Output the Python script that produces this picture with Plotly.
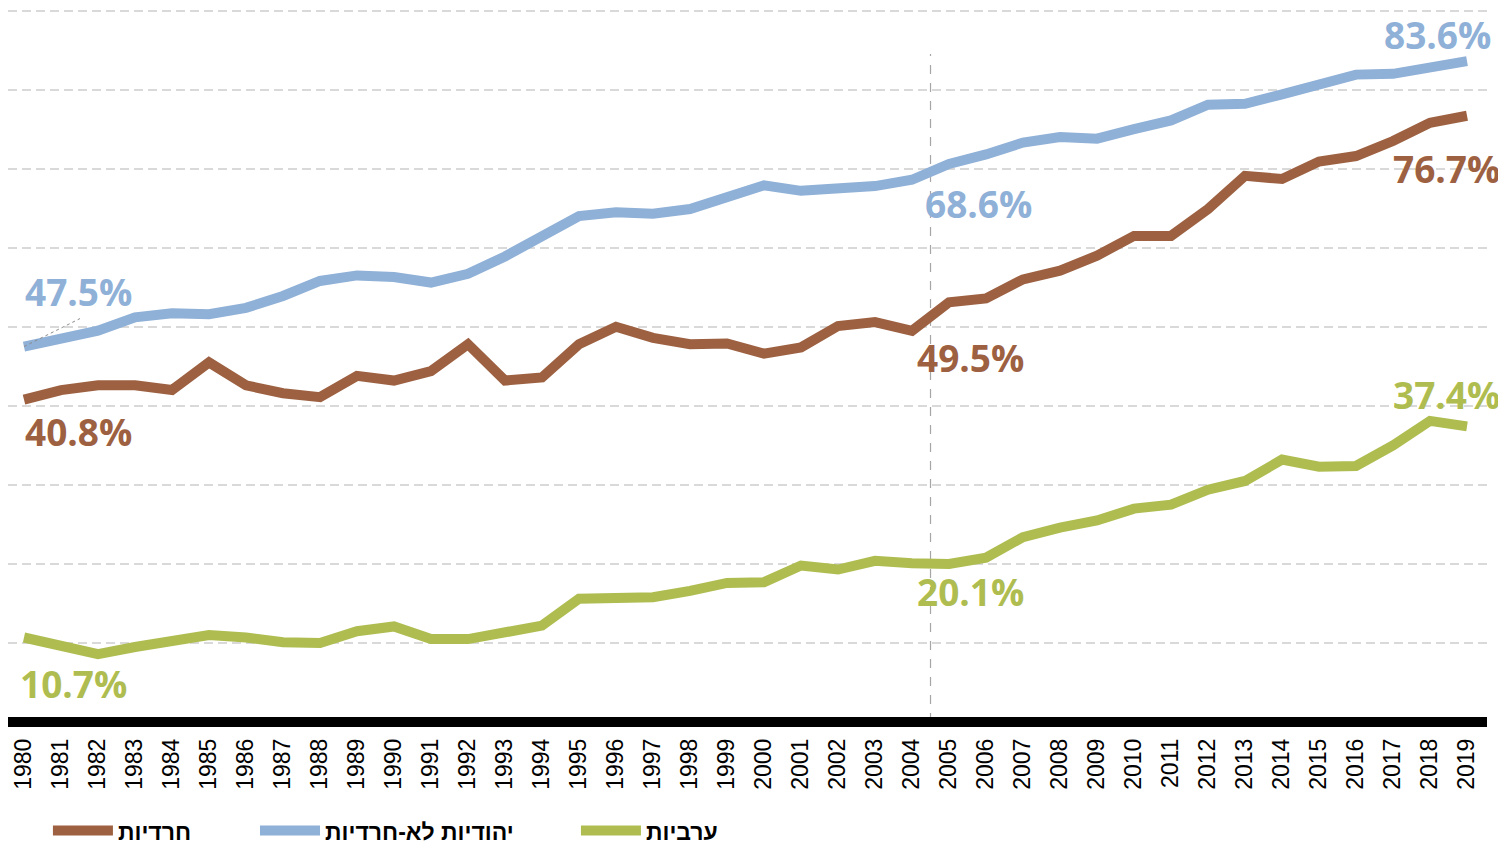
import plotly.graph_objects as go

years = list(range(1980, 2020))

haredi = [40.8, 42.0, 42.6, 42.6, 42.0, 45.5, 42.6, 41.6, 41.1, 43.8,
          43.2, 44.4, 47.8, 43.2, 43.6, 47.8, 50.0, 48.6, 47.8, 47.9,
          46.6, 47.4, 50.1, 50.6, 49.5, 53.1, 53.6, 56.0, 57.1, 59.0,
          61.5, 61.5, 64.9, 69.1, 68.7, 70.9, 71.6, 73.5, 75.8, 76.7]

non_haredi = [47.5, 48.5, 49.5, 51.2, 51.7, 51.6, 52.4, 53.9, 55.8, 56.5,
              56.3, 55.6, 56.7, 58.9, 61.5, 64.0, 64.5, 64.3, 64.9, 66.3,
              67.9, 67.2, 67.5, 67.8, 68.6, 70.6, 71.8, 73.3, 74.0, 73.8,
              75.0, 76.1, 78.1, 78.2, 79.4, 80.5, 81.9, 82.0, 82.9, 83.6]

arab = [10.7, 9.5, 8.6, 9.5, 10.4, 11.0, 10.7, 10.1, 10.0, 11.5,
        12.1, 10.5, 10.5, 11.4, 12.2, 15.6, 15.7, 15.8, 16.6, 17.6,
        17.7, 19.8, 19.3, 20.4, 20.1, 20.0, 20.8, 23.4, 24.6, 25.5,
        27.0, 27.5, 29.4, 30.5, 33.2, 32.3, 32.4, 35.0, 38.1, 37.4]

names = ["חרדיות", "יהודיות לא-חרדיות", "ערביות"]
colors = ["#9D6142", "#8FB0D7", "#AFBD50"]
series = [haredi, non_haredi, arab]
legend_ids = ["legend", "legend2", "legend3"]
legend_x = [0.027, 0.167, 0.384]

fig = go.Figure()
for name, col, vals, lid in zip(names, colors, series, legend_ids):
    fig.add_trace(go.Scatter(
        x=years, y=vals, mode="lines", name=name,
        line=dict(color=col, width=10),
        hoverinfo="skip", legend=lid,
    ))

# value labels: (series index, point index, xanchor, xshift, yshift)
label_specs = [
    (1, 0, "left", 0, 56), (0, 0, "left", 0, -31), (2, 0, "left", -5, -45),
    (1, 24, "left", 12, -23), (0, 24, "left", 4, -26), (2, 24, "left", 4, -28),
    (1, 39, "right", 25, 27), (0, 39, "right", 34, -52), (2, 39, "right", 34, 32),
]
for si, pi, xa, xs, ys in label_specs:
    v = series[si][pi]
    fig.add_annotation(
        x=years[pi], y=v, text=f"{v:.1f}%", showarrow=False,
        xanchor=xa, yanchor="middle", xshift=xs, yshift=ys,
        height=38, valign="middle", borderpad=0,
        font=dict(family="Open Sans", size=37, color=colors[si], weight="bold"),
    )

# vertical dashed divider between 2004 and 2005
fig.add_shape(type="line", x0=2004.5, x1=2004.5, y0=0, y1=84.5,
              line=dict(color="#A6A6A6", width=1.2, dash="dash"), layer="below")

# small dotted leader at the first blue label
fig.add_shape(type="line", xsizemode="pixel", ysizemode="pixel",
              xanchor=years[0], yanchor=non_haredi[0],
              x0=0, x1=56, y0=0, y1=28,
              line=dict(color="#8C8C8C", width=1, dash="dot"))

legend_font = dict(family="Liberation Sans", size=23, color="#000000", weight="bold")
legend_common = dict(orientation="h", xanchor="left", y=-0.1395, yanchor="middle",
                     font=legend_font, itemwidth=60, bgcolor="rgba(0,0,0,0)")

fig.update_layout(
    width=1498, height=837,
    margin=dict(l=0, r=19, t=0.7, b=115.4, autoexpand=False),
    paper_bgcolor="white", plot_bgcolor="white",
    showlegend=True,
    legend=dict(x=legend_x[0], **legend_common),
    legend2=dict(x=legend_x[1], **legend_common),
    legend3=dict(x=legend_x[2], **legend_common),
    xaxis=dict(
        range=[1979.568, 2019.54], tickmode="array", tickvals=years,
        ticktext=[str(y) for y in years], tickangle=-90,
        tickfont=dict(family="Liberation Sans", size=23, color="#000000"),
        showgrid=False, zeroline=False, showline=False, ticks="",
        ticklabelstandoff=3, automargin=False,
    ),
    yaxis=dict(
        range=[-1, 90.2], tick0=0, dtick=10,
        showgrid=True, gridcolor="#D9D9D9", gridwidth=2, griddash="9px,5px",
        zeroline=True, zerolinecolor="#000000", zerolinewidth=10,
        showticklabels=False, showline=False, ticks="", automargin=False,
    ),
)

fig.write_html("out.html")
